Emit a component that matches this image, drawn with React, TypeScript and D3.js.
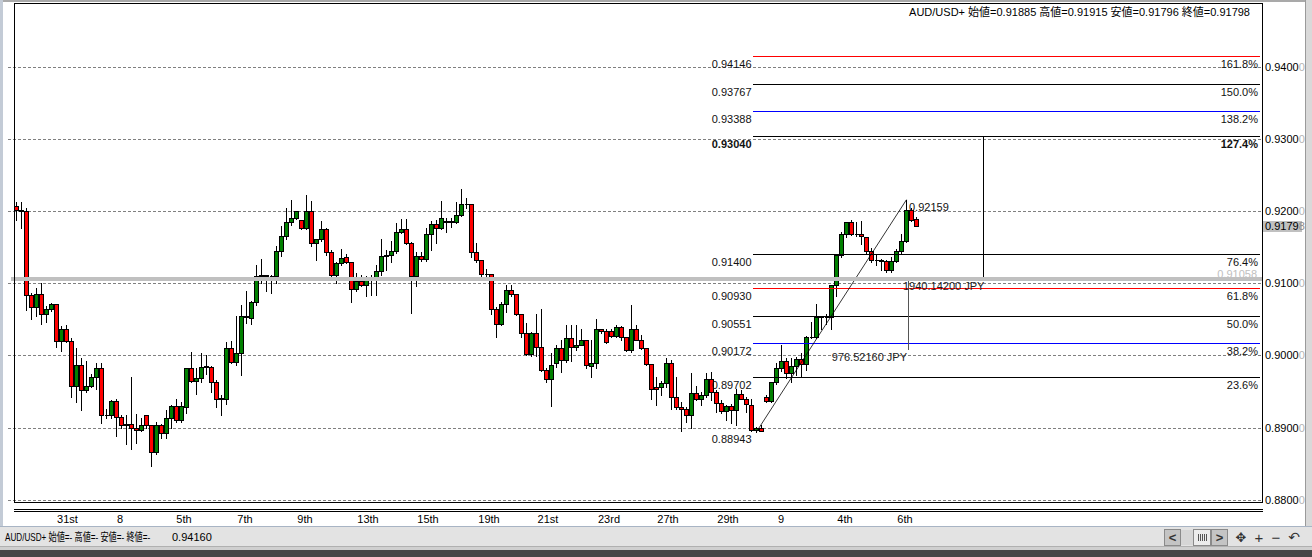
import React from 'react'
import * as d3 from 'd3'

// H4 candles (oldest first)
const opens = [
  0.9207, 0.9201, 0.9200, 0.9084, 0.9067, 0.9085, 0.9058, 0.9064, 0.9071, 0.9020,
  0.9037, 0.9020, 0.8957, 0.8987, 0.8952, 0.8958, 0.8970, 0.8982, 0.8917, 0.8918,
  0.8937, 0.8915, 0.8903, 0.8905, 0.8900, 0.8897, 0.8917, 0.8903, 0.8866, 0.8904,
  0.8892, 0.8913, 0.8930, 0.8911, 0.8929, 0.8982, 0.8965, 0.8969, 0.8984, 0.8984,
  0.8963, 0.8941, 0.8939, 0.9011, 0.8991, 0.9004, 0.9055, 0.9052, 0.9074, 0.9110,
  0.9111, 0.9110, 0.9110, 0.9145, 0.9165, 0.9185, 0.9191, 0.9188, 0.9177, 0.9200,
  0.9156, 0.9161, 0.9175, 0.9143, 0.9112, 0.9128, 0.9136, 0.9129, 0.9092, 0.9103,
  0.9098, 0.9107, 0.9107, 0.9117, 0.9138, 0.9139, 0.9145, 0.9171, 0.9175, 0.9156,
  0.9110, 0.9138, 0.9133, 0.9169, 0.9182, 0.9177, 0.9186, 0.9185, 0.9185, 0.9195,
  0.9210, 0.9210, 0.9144, 0.9132, 0.9113, 0.9113, 0.9065, 0.9044, 0.9072, 0.9091,
  0.9085, 0.9057, 0.9031, 0.9002, 0.9031, 0.9012, 0.8980, 0.8967, 0.8989, 0.9011,
  0.8994, 0.9024, 0.9012, 0.9015, 0.9021, 0.8986, 0.8989, 0.9036, 0.9034, 0.9034,
  0.9027, 0.9040, 0.9025, 0.9007, 0.9037, 0.9022, 0.9010, 0.8988, 0.8956, 0.8956,
  0.8962, 0.8989, 0.8942, 0.8928, 0.8926, 0.8917, 0.8948, 0.8940, 0.8945, 0.8967,
  0.8950, 0.8934, 0.8923, 0.8930, 0.8924, 0.8947, 0.8940, 0.8932, 0.8897, 0.8899,
  0.8942, 0.8937, 0.8963, 0.8982, 0.8993, 0.8976, 0.8986, 0.8995, 0.8988, 0.9025,
  0.9026, 0.9053, 0.9053, 0.9053, 0.9097, 0.9139, 0.9168, 0.9185, 0.9169, 0.9168,
  0.9164, 0.9145, 0.9132, 0.9132, 0.9131, 0.9119, 0.9131, 0.9145, 0.9159, 0.9201,
  0.91885,
]
const highs = [
  0.9212, 0.9212, 0.9205, 0.9087, 0.9094, 0.9100, 0.9068, 0.9073, 0.9072, 0.9041,
  0.9042, 0.9024, 0.9010, 0.8996, 0.8993, 0.8974, 0.8989, 0.8989, 0.8926, 0.8938,
  0.8939, 0.8917, 0.8917, 0.8970, 0.8919, 0.8914, 0.8918, 0.8904, 0.8908, 0.8905,
  0.8924, 0.8931, 0.8940, 0.8936, 0.8983, 0.9005, 0.8982, 0.9003, 0.9000, 0.8986,
  0.8966, 0.8945, 0.9019, 0.9020, 0.9054, 0.9070, 0.9089, 0.9075, 0.9125, 0.9134,
  0.9111, 0.9112, 0.9151, 0.9179, 0.9205, 0.9215, 0.9200, 0.9188, 0.9222, 0.9214,
  0.9162, 0.9186, 0.9176, 0.9146, 0.9130, 0.9147, 0.9140, 0.9130, 0.9114, 0.9112,
  0.9110, 0.9111, 0.9126, 0.9161, 0.9146, 0.9158, 0.9184, 0.9189, 0.9189, 0.9157,
  0.9144, 0.9144, 0.9177, 0.9186, 0.9188, 0.9214, 0.9190, 0.9190, 0.9212, 0.9231,
  0.9218, 0.9210, 0.9156, 0.9132, 0.9120, 0.9113, 0.9067, 0.9074, 0.9097, 0.9097,
  0.9085, 0.9058, 0.9045, 0.9033, 0.9058, 0.9064, 0.8982, 0.9004, 0.9014, 0.9021,
  0.9042, 0.9042, 0.9042, 0.9036, 0.9022, 0.9021, 0.9050, 0.9037, 0.9036, 0.9036,
  0.9042, 0.9041, 0.9026, 0.9070, 0.9042, 0.9028, 0.9010, 0.8988, 0.8970, 0.8965,
  0.8996, 0.8994, 0.8970, 0.8936, 0.8928, 0.8976, 0.8957, 0.8950, 0.8976, 0.8977,
  0.8952, 0.8938, 0.8932, 0.8933, 0.8953, 0.8952, 0.8943, 0.8940, 0.8901, 0.8903,
  0.8945, 0.8963, 0.8989, 0.9014, 0.8996, 0.8996, 0.8998, 0.9003, 0.9027, 0.9047,
  0.9072, 0.9055, 0.9058, 0.9097, 0.9141, 0.9171, 0.9185, 0.9188, 0.9185, 0.9187,
  0.9164, 0.9149, 0.9139, 0.9133, 0.9132, 0.9137, 0.9147, 0.9169, 0.92159, 0.9204,
  0.91915,
]
const lows = [
  0.9188, 0.9177, 0.9063, 0.9051, 0.9054, 0.9043, 0.9046, 0.9062, 0.9012, 0.9006,
  0.9018, 0.8943, 0.8935, 0.8924, 0.8949, 0.8956, 0.8954, 0.8906, 0.8913, 0.8914,
  0.8889, 0.8899, 0.8878, 0.8871, 0.8879, 0.8896, 0.8899, 0.8847, 0.8864, 0.8885,
  0.8885, 0.8900, 0.8908, 0.8908, 0.8920, 0.8963, 0.8947, 0.8963, 0.8975, 0.8950,
  0.8929, 0.8917, 0.8933, 0.8989, 0.8987, 0.8973, 0.9045, 0.9044, 0.9070, 0.9100,
  0.9089, 0.9087, 0.9100, 0.9138, 0.9162, 0.9181, 0.9189, 0.9175, 0.9175, 0.9152,
  0.9132, 0.9158, 0.9139, 0.9110, 0.9100, 0.9125, 0.9128, 0.9074, 0.9089, 0.9096,
  0.9082, 0.9084, 0.9084, 0.9112, 0.9118, 0.9130, 0.9142, 0.9170, 0.9154, 0.9059,
  0.9096, 0.9131, 0.9131, 0.9146, 0.9156, 0.9175, 0.9171, 0.9178, 0.9184, 0.9193,
  0.9204, 0.9137, 0.9130, 0.9109, 0.9109, 0.9057, 0.9026, 0.9042, 0.9060, 0.9083,
  0.9056, 0.9026, 0.9000, 0.8999, 0.8999, 0.8979, 0.8963, 0.8930, 0.8984, 0.8977,
  0.8991, 0.8992, 0.9007, 0.9014, 0.8983, 0.8970, 0.8983, 0.9031, 0.9017, 0.9026,
  0.9025, 0.9022, 0.9006, 0.9005, 0.9021, 0.9009, 0.8987, 0.8940, 0.8932, 0.8945,
  0.8956, 0.8926, 0.8926, 0.8896, 0.8908, 0.8900, 0.8938, 0.8932, 0.8943, 0.8938,
  0.8922, 0.8920, 0.8910, 0.8906, 0.8903, 0.8939, 0.8922, 0.8896, 0.88943, 0.8895,
  0.8936, 0.8935, 0.8960, 0.8978, 0.8969, 0.8963, 0.8973, 0.8971, 0.8980, 0.9024,
  0.9024, 0.9037, 0.9044, 0.9036, 0.9082, 0.9137, 0.9164, 0.9167, 0.9165, 0.9155,
  0.9141, 0.9130, 0.9125, 0.9118, 0.9115, 0.9116, 0.9130, 0.9142, 0.9157, 0.9187,
  0.91796,
]
const closes = [
  0.9201, 0.9200, 0.9084, 0.9067, 0.9085, 0.9058, 0.9064, 0.9071, 0.9020, 0.9037,
  0.9020, 0.8957, 0.8987, 0.8952, 0.8958, 0.8970, 0.8982, 0.8917, 0.8918, 0.8937,
  0.8915, 0.8903, 0.8905, 0.8900, 0.8897, 0.8903, 0.8903, 0.8866, 0.8903, 0.8892,
  0.8913, 0.8930, 0.8911, 0.8930, 0.8982, 0.8965, 0.8969, 0.8984, 0.8985, 0.8963,
  0.8940, 0.8939, 0.9011, 0.8991, 0.9004, 0.9054, 0.9053, 0.9074, 0.9110, 0.9111,
  0.9110, 0.9110, 0.9145, 0.9165, 0.9185, 0.9191, 0.9200, 0.9177, 0.9200, 0.9156,
  0.9161, 0.9175, 0.9143, 0.9112, 0.9128, 0.9135, 0.9129, 0.9092, 0.9103, 0.9098,
  0.9107, 0.9106, 0.9117, 0.9138, 0.9139, 0.9145, 0.9171, 0.9175, 0.9156, 0.9110,
  0.9138, 0.9133, 0.9169, 0.9182, 0.9177, 0.9191, 0.9185, 0.9186, 0.9195, 0.9210,
  0.9210, 0.9144, 0.9132, 0.9113, 0.9113, 0.9065, 0.9044, 0.9072, 0.9091, 0.9085,
  0.9057, 0.9031, 0.9002, 0.9031, 0.9012, 0.8980, 0.8967, 0.8987, 0.9011, 0.8994,
  0.9024, 0.9012, 0.9015, 0.9021, 0.8987, 0.8989, 0.9036, 0.9034, 0.9019, 0.9027,
  0.9040, 0.9025, 0.9008, 0.9037, 0.9022, 0.9010, 0.8988, 0.8953, 0.8953, 0.8962,
  0.8989, 0.8942, 0.8928, 0.8926, 0.8917, 0.8948, 0.8940, 0.8945, 0.8967, 0.8950,
  0.8934, 0.8923, 0.8930, 0.8924, 0.8947, 0.8940, 0.8933, 0.8897, 0.8899, 0.8896,
  0.8937, 0.8963, 0.8982, 0.8993, 0.8976, 0.8986, 0.8995, 0.8988, 0.9026, 0.9026,
  0.9053, 0.9054, 0.9053, 0.9097, 0.9139, 0.9168, 0.9185, 0.9169, 0.9168, 0.9165,
  0.9145, 0.9132, 0.9132, 0.9131, 0.9119, 0.9131, 0.9145, 0.9159, 0.9201, 0.9188,
  0.91798,
]

const priceTicks = [0.88, 0.89, 0.9, 0.91, 0.92, 0.93, 0.94]
const dateLabels = ['31st', '8', '5th', '7th', '9th', '13th', '15th', '19th', '21st', '23rd', '27th', '29th', '9', '4th', '6th']
const dateLabelBars = [10.2, 20.7, 33.5, 45.7, 57.7, 70.3, 82.3, 94.5, 106.3, 118.5, 130.3, 142.3, 152.9, 165.7, 177.7]

// fibonacci expansion drawn on the last swing
const fibLow = 0.88943
const fibHigh = 0.92159
const fibLowBar = 148
const fibHighBar = 178
const fibStartBar = 147.3
const fibPercents = ['23.6%', '38.2%', '50.0%', '61.8%', '76.4%', '127.4%', '138.2%', '150.0%', '161.8%']
const fibPrices = [0.89702, 0.90172, 0.90551, 0.9093, 0.914, 0.9304, 0.93388, 0.93767, 0.94146]

// other objects on the chart
const hLinePrice = 0.91058
const vLineBar = 193.4
const measureBar = 178.4
const measureTop = 0.91030
const measureBottom = 0.90073
const measureTexts = ['1940.14200 JPY', '976.52160 JPY']

const headerText = 'AUD/USD+ 始値=0.91885 高値=0.91915 安値=0.91796 終値=0.91798'
const statusText = 'AUD/USD+ 始値=- 高値=- 安値=- 終値=-'
const statusPrice = '0.94160'

const W = 1312
const H = 557
const plot = {left: 14, right: 1262, top: 3, bottom: 502}
const FONT = "'Liberation Sans', Arial, 'Noto Sans CJK JP', sans-serif"

const fibColor = (p: string) => {
    if (p === '61.8%' || p === '161.8%') return '#ff0000'
    if (p === '38.2%' || p === '138.2%') return '#0000ff'
    return '#000000'
}

export default function App() {
    const x = d3.scaleLinear().domain([0, 1]).range([16, 21])
    const y = d3.scaleLinear().domain([0.88, 0.94]).range([499.8, 66.8])
    const snap = (v: number) => Math.round(v) + 0.5

    const fibX0 = x(fibStartBar)
    const fibX1 = plot.right - 2
    const last = closes[closes.length - 1].toFixed(5)

    return (
        <svg width={W} height={H} style={{position: 'absolute', left: 0, top: 0, background: '#fff'}}
             fontFamily={FONT} fontSize={11}>
            <rect width={W} height={H} fill="#fff"/>
            {/* window frame */}
            <rect x={0} y={0} width={W} height={2} fill="#a9a9a9"/>
            <rect x={0} y={0} width={3} height={527} fill="#c3cbd6"/>
            <rect x={1305} y={0} width={7} height={527} fill="#d9d9d9"/>
            <line x1={1305.5} x2={1305.5} y1={0} y2={527} stroke="#9a9a9a"/>

            {/* grid */}
            <g shapeRendering="crispEdges">
                {priceTicks.map(t => (
                    <line key={t} x1={8} x2={plot.right} y1={snap(y(t))} y2={snap(y(t))}
                          stroke="#808080" strokeDasharray="3,2"/>
                ))}
            </g>

            {/* candles */}
            <g shapeRendering="crispEdges">
                {opens.map((o, i) => {
                    const c = closes[i]
                    const p = Math.round(x(i))
                    const hi = Math.max(highs[i], o, c)
                    const lo = Math.min(lows[i], o, c)
                    const top = snap(y(Math.max(o, c)))
                    const bot = snap(y(Math.min(o, c)))
                    return (
                        <g key={i}>
                            <line x1={p + 0.5} x2={p + 0.5} y1={Math.round(y(hi))} y2={Math.round(y(lo)) + 1}
                                  stroke="#000"/>
                            <path d={`M${p - 1.5},${top}H${p + 2.5}V${bot}H${p - 1.5}Z`}
                                  fill={c >= o ? '#008000' : '#ff0000'} stroke="#000"/>
                        </g>
                    )
                })}
            </g>

            {/* fibonacci levels */}
            <g>
                {fibPrices.map((v, i) => {
                    const yy = snap(y(v))
                    const bold = fibPercents[i] === '127.4%'
                    return (
                        <g key={v}>
                            <line x1={fibX0} x2={fibX1} y1={yy} y2={yy} stroke={fibColor(fibPercents[i])}
                                  shapeRendering="crispEdges"/>
                            <text x={fibX0 - 1} y={yy + 7} textAnchor="end" dominantBaseline="central"
                                  fill="#111" fontWeight={bold ? 'bold' : 'normal'}>{v.toFixed(5)}</text>
                            <text x={fibX1 - 2} y={yy + 7} textAnchor="end" dominantBaseline="central"
                                  fill="#111" fontWeight={bold ? 'bold' : 'normal'}>{fibPercents[i]}</text>
                        </g>
                    )
                })}
                <text x={fibX0 - 1} y={y(fibLow) + 7} textAnchor="end" dominantBaseline="central"
                      fill="#111">{fibLow.toFixed(5)}</text>
                <text x={x(fibHighBar) + 3} y={y(fibHigh) + 7} dominantBaseline="central"
                      fill="#111">{fibHigh.toFixed(5)}</text>
                <line x1={x(fibLowBar) + 0.5} y1={y(fibLow)} x2={x(fibHighBar) + 0.5} y2={y(fibHigh)}
                      stroke="#000" strokeWidth={0.8}/>
            </g>

            {/* vertical guides */}
            <line x1={snap(x(vLineBar))} x2={snap(x(vLineBar))} y1={snap(y(fibPrices[5]))}
                  y2={y(hLinePrice) - 2} stroke="#000" shapeRendering="crispEdges"/>
            <line x1={snap(x(measureBar))} x2={snap(x(measureBar))} y1={y(measureTop)} y2={y(measureBottom)}
                  stroke="#555" shapeRendering="crispEdges"/>
            <text x={x(measureBar) - 5} y={y(measureTop) + 5} dominantBaseline="central"
                  fill="#222">{measureTexts[0]}</text>
            <text x={x(measureBar) - 1} y={y(measureBottom) + 7} textAnchor="end" dominantBaseline="central"
                  fill="#222">{measureTexts[1]}</text>

            {/* selected horizontal line */}
            <text x={plot.right - 5} y={y(hLinePrice) - 5} textAnchor="end" dominantBaseline="central"
                  fill="#c0c0c0">{hLinePrice.toFixed(5)}</text>
            <line x1={11} x2={plot.right + 1} y1={y(hLinePrice)} y2={y(hLinePrice)} stroke="#c0c0c0"
                  strokeWidth={4}/>

            {/* plot border */}
            <rect x={plot.left + 0.5} y={plot.top + 0.5} width={plot.right - plot.left} height={plot.bottom - plot.top}
                  fill="none" stroke="#000" shapeRendering="crispEdges"/>
            <line x1={plot.left} x2={plot.right + 1} y1={509.5} y2={509.5} stroke="#000" shapeRendering="crispEdges"/>
            <line x1={plot.left} x2={plot.right + 1} y1={511.5} y2={511.5} stroke="#000" shapeRendering="crispEdges"/>

            {/* header */}
            <text x={1250} y={12} textAnchor="end" dominantBaseline="central" fill="#000">{headerText}</text>

            {/* price axis */}
            {priceTicks.map(t => {
                const s = t.toFixed(5)
                return (
                    <text key={t} x={plot.right + 3} y={y(t)} dominantBaseline="central" fill="#000">
                        {s.slice(0, 6)}<tspan fill="#b4b4b4">{s.slice(6)}</tspan>
                    </text>
                )
            })}
            <rect x={plot.right + 1} y={Math.round(y(closes[closes.length - 1])) - 5} width={39} height={11}
                  fill="#c0c0c0"/>
            <text x={plot.right + 3} y={y(closes[closes.length - 1]) + 0.5} dominantBaseline="central" fill="#000">
                {last.slice(0, 6)}<tspan fill="#8c8c8c">{last.slice(6)}</tspan>
            </text>

            {/* time axis */}
            {dateLabels.map((d, i) => (
                <text key={i} x={x(dateLabelBars[i]) + 0.5} y={518.5} textAnchor="middle" dominantBaseline="central"
                      fill="#000">{d}</text>
            ))}

            {/* status bar */}
            <rect x={0} y={526} width={W} height={22} fill="#e3e3e3"/>
            <line x1={0} x2={W} y1={526.5} y2={526.5} stroke="#a8b4c4"/>
            <line x1={0} x2={W} y1={546.5} y2={546.5} stroke="#b0b0b0"/>
            <rect x={0} y={547} width={W} height={3} fill="#cfcfcf"/>
            <rect x={0} y={550} width={W} height={7} fill="#474747"/>
            <text transform="translate(5,537) scale(0.74,1)" dominantBaseline="central" fill="#000">{statusText}</text>
            <text x={172} y={537} dominantBaseline="central" fill="#000">{statusPrice}</text>

            {/* scroll and zoom controls */}
            <g shapeRendering="crispEdges">
                <rect x={1164.5} y={529.5} width={16} height={16} fill="#c4c4c4" stroke="#8a8a8a"/>
                <rect x={1181} y={530} width={12} height={15} fill="#d6d6d6"/>
                <rect x={1193.5} y={529.5} width={17} height={16} fill="#ececec" stroke="#8a8a8a"/>
                {[0, 1, 2, 3, 4].map(k => (
                    <line key={k} x1={1198.5 + k * 2} x2={1198.5 + k * 2} y1={534} y2={541} stroke="#555"/>
                ))}
                <rect x={1211.5} y={529.5} width={16} height={16} fill="#c4c4c4" stroke="#8a8a8a"/>
            </g>
            <text x={1172.5} y={537.5} textAnchor="middle" dominantBaseline="central" fontWeight="bold"
                  fontSize={13} fill="#333">{'<'}</text>
            <text x={1219.5} y={537.5} textAnchor="middle" dominantBaseline="central" fontWeight="bold"
                  fontSize={13} fill="#333">{'>'}</text>
            <text x={1241} y={537} textAnchor="middle" dominantBaseline="central" fontSize={13}
                  fontFamily="'DejaVu Sans', sans-serif" fill="#333">{'\u2725'}</text>
            <text x={1259} y={537} textAnchor="middle" dominantBaseline="central" fontSize={15} fill="#333">+</text>
            <text x={1276} y={537} textAnchor="middle" dominantBaseline="central" fontSize={15} fill="#333">{'\u2212'}</text>
            <text x={1294} y={537} textAnchor="middle" dominantBaseline="central" fontSize={14}
                  fontFamily="'DejaVu Sans', sans-serif" fill="#333">{'\u21b6'}</text>
        </svg>
    )
}
